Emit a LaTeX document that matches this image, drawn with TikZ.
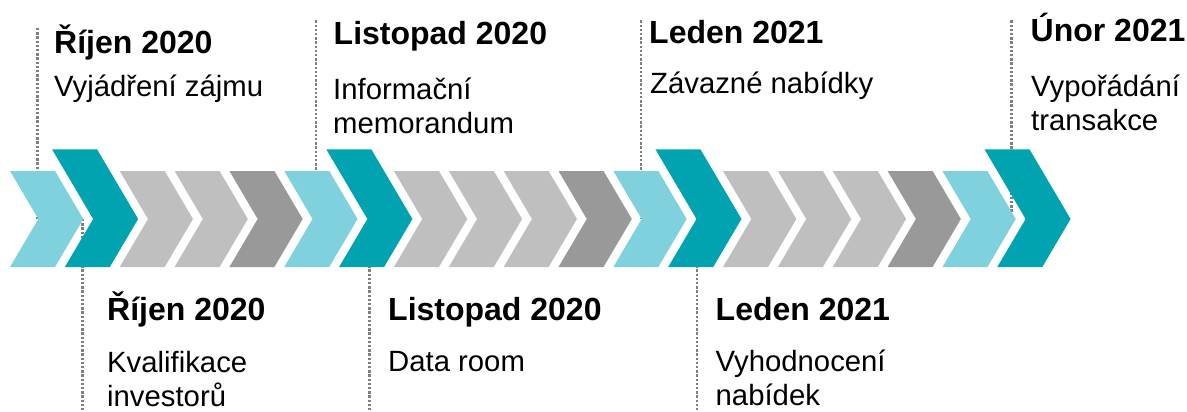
\documentclass[tikz,border=0pt]{standalone}
\usepackage{fontspec}
\setmainfont{Liberation Sans}
\usetikzlibrary{backgrounds}

\definecolor{chevlight}{HTML}{7FD1DE}
\definecolor{chevteal}{HTML}{00A3AF}
\definecolor{chevgray}{HTML}{BFBFBF}
\definecolor{chevdark}{HTML}{999999}
\definecolor{guidegray}{HTML}{7F7F7F}

\begin{document}
\begin{tikzpicture}[x=1pt, y=-1pt,
    guide/.style={draw=guidegray, line width=2.6pt, dash pattern=on 2.4pt off 1.8pt},
    datum/.style={anchor=base west, inner sep=0pt, font=\fontsize{32}{38}\selectfont\bfseries},
    stage/.style={anchor=base west, inner sep=0pt, align=left, font=\fontsize{29.3}{34.3}\selectfont}]
    \useasboundingbox (0,0) rectangle (1187,412);

    % chevrons, teal ones reach higher
    \foreach \c/\top [count=\i from 0] in {chevlight/171, chevteal/149.3, chevgray/171, chevgray/171, chevdark/171,
        chevlight/171, chevteal/149.3, chevgray/171, chevgray/171, chevgray/171, chevdark/171,
        chevlight/171, chevteal/149.3, chevgray/171, chevgray/171, chevgray/171, chevdark/171,
        chevlight/171, chevteal/149.3} {
        \pgfmathsetmacro\X{10+54.85*\i}
        \pgfmathsetmacro\L{\X-(171-\top)*0.5896}
        \fill[\c] (\L,\top) -- (\L+45,\top) -- (\X+73.3,219) -- (\X+45,267) -- (\X,267) -- (\X+28.3,219) -- cycle;
        \coordinate (n\i) at (\X+28.3,219);
    }

    % top labels (multi-line ones sit on their last line)
    \node[datum] (d1) at (54,53.3) {Říjen 2020};
    \node[stage] (s1) at (54,96.7) {Vyjádření zájmu};
    \node[datum] (d2) at (333.5,45) {Listopad 2020};
    \node[stage] (s2) at (333,133.3) {Informační\\memorandum};
    \node[datum] (d3) at (649,43.3) {Leden 2021};
    \node[stage] (s3) at (650,93.3) {Závazné nabídky};
    \node[datum] (d4) at (1030.5,41.7) {Únor 2021};
    \node[stage] (s4) at (1031,130.8) {Vypořádání\\transakce};

    % bottom labels
    \node[datum] (d5) at (107,320) {Říjen 2020};
    \node[stage] (s5) at (107,406.8) {Kvalifikace\\investorů};
    \node[datum] (d6) at (388,320) {Listopad 2020};
    \node[stage] (s6) at (388,371.7) {Data room};
    \node[datum] (d7) at (715.5,320.5) {Leden 2021};
    \node[stage] (s7) at (715.5,405.3) {Vyhodnocení\\nabídek};

    \coordinate (g1) at (37.7,28);
    \coordinate (g2) at (316,20.5);
    \coordinate (g3) at (641,20.5);
    \coordinate (g4) at (1011.7,20.5);
    \coordinate (h1) at (82.7,412);
    \coordinate (h2) at (369.3,412);
    \coordinate (h3) at (697,412);

    \begin{scope}[on background layer]
        \draw[guide] (g1) -- (g1 |- n0);
        \draw[guide] (g2) -- (g2 |- n5);
        \draw[guide] (g3) -- (g3 |- n11);
        \draw[guide] (g4) -- (g4 |- n18);
        \draw[guide] (h1 |- n1) -- (h1);
        \draw[guide] (h2 |- n6) -- (h2);
        \draw[guide] (h3 |- n12) -- (h3);
    \end{scope}
\end{tikzpicture}
\end{document}
